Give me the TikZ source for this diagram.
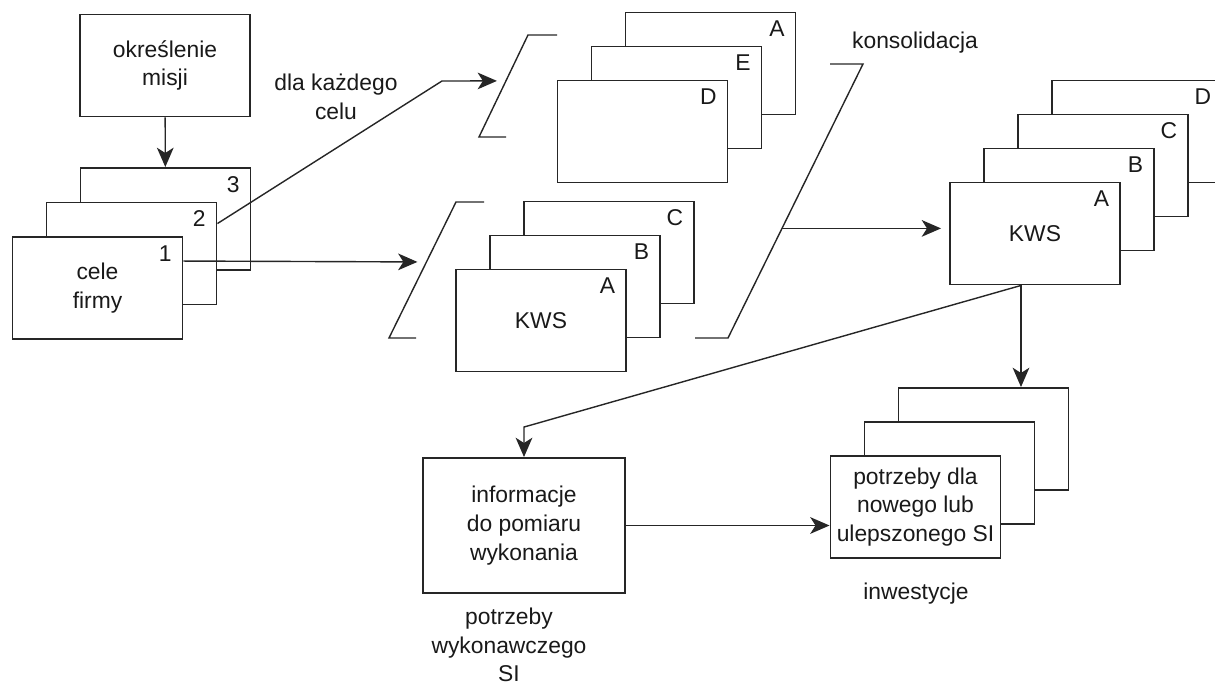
\documentclass[tikz,border=0pt]{standalone}
\usepackage{fontspec}
\setmainfont{Liberation Sans}
\usepackage{xcolor}
\usepackage{tikz}
\usetikzlibrary{arrows.meta,positioning,calc}

\begin{document}
\begin{tikzpicture}[x=0.02cm,y=-0.02cm,
  every node/.style={font=\fontsize{13}{16.4}\selectfont,text=black!90,align=center},
  card/.style={draw=black!85,line width=1.1pt,fill=white,minimum width=3.4cm,minimum height=2.04cm,inner sep=0pt},
  tag/.style={anchor=north east,inner sep=0pt,xshift=-0.23cm,yshift=-0.18cm},
  flow/.style={draw=black!85,line width=0.8pt,-{Stealth[length=11pt,width=9.5pt,inset=3pt]}},
  brace/.style={draw=black!85,line width=0.8pt}]
\useasboundingbox (0,0) rectangle (1215,689);
\clip (0,0) rectangle (1215,689);

% mission and goals
\node[card] (misja) at (165,65.5) {określenie\\misji};
\node[card] (g3) at (165.5,219) {};
\node[card] (g2) at (131.5,253.5) {};
\node[card] (g1) at (97.5,288) {cele\\firmy};
\node[tag] at (g3.north east) {3};
\node[tag] at (g2.north east) {2};
\node[tag] at (g1.north east) {1};

% per goal
\node[card] (uA) at (710.5,63.5) {};
\node[card] (uE) at (676.5,97.5) {};
\node[card] (uD) at (642.5,131.5) {};
\node[tag] at (uA.north east) {A};
\node[tag] at (uE.north east) {E};
\node[tag] at (uD.north east) {D};

\node[card] (lC) at (609,252.5) {};
\node[card] (lB) at (575,286.5) {};
\node[card] (lA) at (541,320.5) {KWS};
\node[tag] at (lC.north east) {C};
\node[tag] at (lB.north east) {B};
\node[tag] at (lA.north east) {A};

% consolidated
\node[card] (rD) at (1137,131.5) {};
\node[card] (rC) at (1103,165.5) {};
\node[card] (rB) at (1069,199.5) {};
\node[card] (rA) at (1035,233.5) {KWS};
\node[tag] at (rD.north east) {D};
\node[tag] at (rC.north east) {C};
\node[tag] at (rB.north east) {B};
\node[tag] at (rA.north east) {A};

% outputs
\node[card,minimum width=4.04cm,minimum height=2.7cm] (info) at (524,525.5) {informacje\\do pomiaru\\wykonania};
\node[card] (nC) at (983.5,439) {};
\node[card] (nB) at (949.5,473) {};
\node[card] (nA) at (915.5,507) {potrzeby dla\\nowego lub\\ulepszonego SI};

% brackets
\coordinate (ubt) at (528,35);
\coordinate (ubb) at (479,137);
\draw[brace] (557,35) -- (ubt) -- (ubb) -- (506,137);
\coordinate (lbt) at (456,202);
\coordinate (lbb) at (389,338);
\draw[brace] (484,202) -- (lbt) -- (lbb) -- (416,338);
\coordinate (kt) at (863,64);
\coordinate (kb) at (728,338);
\draw[brace] (830,64) -- (kt) -- (kb) -- (695,338);

\coordinate (uin) at ($(ubt)!0.45!(ubb)$);
\coordinate (lin) at ($(lbt)!0.441!(lbb)$);
\coordinate (kin) at ($(kb)!0.4!(kt)$);
\coordinate (kws) at ($(rA.south)+(-14,0)$);

% arrows
\draw[flow] (misja) -- (g3);
\draw[flow,shorten >=0.18cm] ($(g2.north east)+(0,22)$) -- (442,81) -- (uin);
\draw[flow,shorten >=0.18cm] ($(g1.north east)+(0,25)$) -- (lin);
\draw[flow,shorten >=0.16cm] (kin) -- (kin -| rA.west);
\draw[flow] (kws) -- (kws |- nC.north);
\draw[flow] (kws) -- ($(info.north)+(0,-30)$) -- (info.north);
\draw[flow] (info.east) -- (info.east -| nA.west);

% captions
\node (celu) at (336,97) {dla każdego\\celu};
\node (kons) at (915,43) {konsolidacja};
\node (inw) at (916,594) {inwestycje};
\node[inner sep=0pt] (wyk) at (509,645) {potrzeby\\wykonawczego\\SI};
\end{tikzpicture}
\end{document}
